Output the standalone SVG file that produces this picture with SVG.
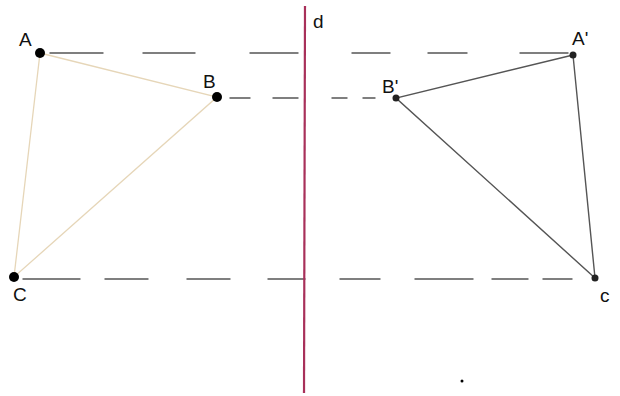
<svg xmlns="http://www.w3.org/2000/svg" width="620" height="396" viewBox="0 0 620 396">
<style>
.lbl{font-family:"Liberation Sans",Arial,sans-serif;font-size:19px;fill:#111}
.dash{stroke:#555;stroke-width:1.4;fill:none;stroke-linecap:round}
.tan{stroke:#e6d6b8;stroke-width:1.3;fill:none}
.dark{stroke:#555;stroke-width:1.4;fill:none}
</style>
<rect width="620" height="396" fill="#fff"/>
<g id="connectors">
<path class="dash" d="M50 53H103M143 53H195M250 53H298M352 53H390M428 53H467M520 53H568"/>
<path class="dash" d="M230 98H250M273 98H298M332 98H347M363 98H375"/>
<path class="dash" d="M23 279H80M105 279H148M187 279H230M268 279H305M340 279H380M415 279H473M492 279H528M543 279H572"/>
<line x1="305" y1="6" x2="304" y2="393" stroke="#a8305a" stroke-width="2.2"/>
<path class="tan" d="M40 53L217 97L14 277Z"/>
<path class="dark" d="M573 55L396 98L595 278Z"/>
</g>
<g id="A"><circle cx="40" cy="53" r="5" fill="#000"/><text class="lbl" x="19" y="46">A</text></g>
<g id="B"><circle cx="217" cy="97" r="5" fill="#000"/><text class="lbl" x="203" y="88">B</text></g>
<g id="C"><circle cx="14" cy="277" r="5" fill="#000"/><text class="lbl" x="13" y="301">C</text></g>
<g id="A2"><circle cx="573" cy="55" r="3.5" fill="#222"/><text class="lbl" x="572" y="45" font-size="17">A'</text></g>
<g id="B2"><circle cx="396" cy="98" r="3.5" fill="#222"/><text class="lbl" x="382" y="93" font-size="16">B'</text></g>
<g id="C2"><circle cx="595" cy="278" r="3.5" fill="#222"/><text class="lbl" x="600" y="302" font-size="19">c</text></g>
<g id="d"><text class="lbl" x="313" y="28" font-size="20">d</text></g>
<circle cx="462" cy="381" r="1.5" fill="#000"/>
</svg>
